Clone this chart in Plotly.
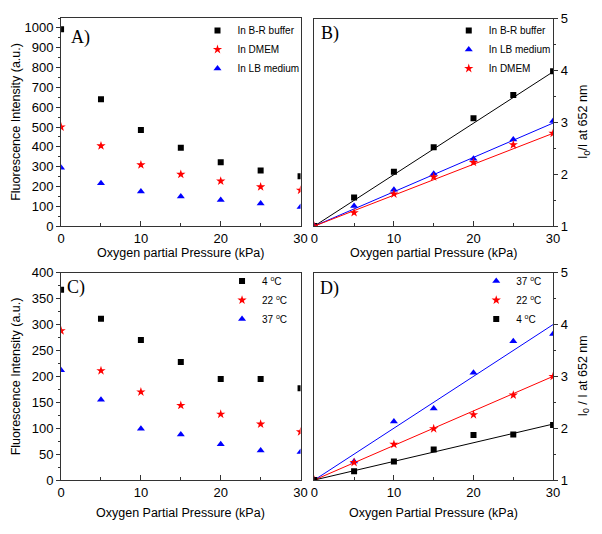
import plotly.graph_objects as go

# page is drawn with the browser's default 8px body margin, so the figure is
# made 8px smaller and every pixel position below is given in window pixels
W, H = 602, 534
OFF = 8
FW, FH = W - OFF, H - OFF

pressure = [0, 5, 10, 15, 20, 25, 30]

# A) fluorescence intensity in different media
br_intensity = [993, 640, 485, 395, 322, 281, 251]
dmem_intensity = [500, 405, 309, 261, 227, 198, 181]
lb_intensity = [294, 216, 175, 149, 132, 114, 96]

# B) I0/I in different media, with Stern-Volmer slopes of the fit lines
br_ratio = [1.0, 1.55, 2.05, 2.52, 3.08, 3.53, 3.99]
lb_ratio = [1.0, 1.39, 1.70, 2.01, 2.30, 2.67, 3.03]
dmem_ratio = [1.0, 1.26, 1.62, 1.95, 2.23, 2.57, 2.79]
br_slope, lb_slope, dmem_slope = 0.0993, 0.0663, 0.0597

# C) fluorescence intensity at different temperatures
t4_intensity = [367, 311, 270, 228, 195, 195, 177]
t22_intensity = [288, 211, 170, 144, 127, 108, 93]
t37_intensity = [212, 155, 99, 88, 69, 57, 54]

# D) I0/I at different temperatures
t37_ratio = [1.0, 1.36, 2.13, 2.38, 3.07, 3.68, 3.82]
t22_ratio = [1.0, 1.34, 1.69, 1.99, 2.26, 2.64, 3.0]
t4_ratio = [1.0, 1.17, 1.36, 1.59, 1.87, 1.88, 2.06]
t37_slope, t22_slope, t4_slope = 0.1, 0.0667, 0.036

FONT = "Liberation Sans, Arial, sans-serif"
BLACK, RED, BLUE = "#000000", "#ff0000", "#0000ff"
SYM = {"sq": ("square", 6), "star": ("star", 7), "tri": ("triangle-up", 7)}


def px_x(x):
    return (x - OFF) / FW


def px_y(y):
    return (H - y) / FH


def xdom(left, right):
    return [px_x(left), px_x(right)]


def ydom(top, bottom):
    return [px_y(bottom), px_y(top)]


fig = go.Figure()


def add_points(n, y, color, sym, name, legend, rank):
    symbol, size = SYM[sym]
    fig.add_trace(
        go.Scatter(
            x=pressure,
            y=y,
            mode="markers",
            name=name,
            marker={"symbol": symbol, "size": size, "color": color, "line": {"width": 0}},
            xaxis=f"x{n}",
            yaxis=f"y{n}",
            legend=legend,
            legendrank=rank,
        )
    )


def add_fit(n, slope, color):
    xs = [pressure[0], pressure[-1]]
    fig.add_trace(
        go.Scatter(
            x=xs,
            y=[1 + slope * x for x in xs],
            mode="lines",
            line={"color": color, "width": 1},
            xaxis=f"x{n}",
            yaxis=f"y{n}",
            showlegend=False,
            hoverinfo="skip",
        )
    )


# panel A
add_points("", br_intensity, BLACK, "sq", "In B-R buffer", "legend", 1)
add_points("", dmem_intensity, RED, "star", "In DMEM", "legend", 2)
add_points("", lb_intensity, BLUE, "tri", "In LB medium", "legend", 3)

# panel B
add_fit(2, br_slope, BLACK)
add_fit(2, lb_slope, BLUE)
add_fit(2, dmem_slope, RED)
add_points(2, br_ratio, BLACK, "sq", "In B-R buffer", "legend2", 1)
add_points(2, lb_ratio, BLUE, "tri", "In LB medium", "legend2", 2)
add_points(2, dmem_ratio, RED, "star", "In DMEM", "legend2", 3)

# panel C
add_points(3, t4_intensity, BLACK, "sq", "4 <sup>o</sup>C", "legend3", 1)
add_points(3, t22_intensity, RED, "star", "22 <sup>o</sup>C", "legend3", 2)
add_points(3, t37_intensity, BLUE, "tri", "37 <sup>o</sup>C", "legend3", 3)

# panel D
add_fit(4, t37_slope, BLUE)
add_fit(4, t22_slope, RED)
add_fit(4, t4_slope, BLACK)
add_points(4, t37_ratio, BLUE, "tri", "37 <sup>o</sup>C", "legend4", 1)
add_points(4, t22_ratio, RED, "star", "22 <sup>o</sup>C", "legend4", 2)
add_points(4, t4_ratio, BLACK, "sq", "4 <sup>o</sup>C", "legend4", 3)

AXIS_COLOR = "#333333"
axis_common = {
    "showline": True,
    "linecolor": AXIS_COLOR,
    "linewidth": 1,
    "mirror": True,
    "tickcolor": AXIS_COLOR,
    "showgrid": False,
    "zeroline": False,
    "tickfont": {"family": FONT, "size": 13, "color": "#000000"},
}
x_common = dict(
    axis_common, range=[0, 30], dtick=10, tick0=0, ticks="inside", ticklen=5,
    minor={"dtick": 5, "ticks": "inside", "ticklen": 3, "tickcolor": AXIS_COLOR},
)


def y_axis(dom, rng, dtick, side="left"):
    return dict(
        axis_common, domain=dom, range=rng, dtick=dtick, side=side,
        ticks="outside", ticklen=4,
        minor={"dtick": dtick / 2, "ticks": "outside", "ticklen": 2, "tickcolor": AXIS_COLOR},
    )


left_x = xdom(58, 302)
right_x = xdom(316, 559.3)

fig.update_layout(
    width=FW,
    height=FH,
    margin={"l": 0, "r": 0, "t": 0, "b": 0},
    paper_bgcolor="white",
    plot_bgcolor="white",
    font={"family": FONT, "size": 12, "color": "#000000"},
    xaxis=dict(x_common, domain=left_x, anchor="y"),
    yaxis=dict(y_axis(ydom(11.1, 225.3), [0, 1050], 100), anchor="x"),
    xaxis2=dict(x_common, domain=right_x, anchor="y2"),
    yaxis2=dict(y_axis(ydom(12, 225.3), [1, 5], 1, "right"), anchor="x2"),
    xaxis3=dict(x_common, domain=left_x, anchor="y3"),
    yaxis3=dict(y_axis(ydom(273.3, 486.7), [0, 400], 50), anchor="x3"),
    xaxis4=dict(x_common, domain=right_x, anchor="y4"),
    yaxis4=dict(y_axis(ydom(273.3, 486.7), [1, 5], 1, "right"), anchor="x4"),
    showlegend=True,
)

legend_style = {
    "bgcolor": "rgba(0,0,0,0)",
    "borderwidth": 0,
    "font": {"family": FONT, "size": 10, "color": "#000000"},
    "xanchor": "left",
    "yanchor": "top",
    "itemwidth": 30,
    "traceorder": "normal",
}
fig.update_layout(
    legend=dict(legend_style, x=px_x(197), y=px_y(9)),
    legend2=dict(legend_style, x=px_x(453), y=px_y(9)),
    legend3=dict(legend_style, x=px_x(222), y=px_y(267)),
    legend4=dict(legend_style, x=px_x(481), y=px_y(267)),
)

title_font = {"family": FONT, "size": 12.5, "color": "#000000"}
annotations = [
    # x axis titles
    (180, 253, "Oxygen partial Pressure (kPa)", 0),
    (437.6, 253, "Oxygen partial Pressure (kPa)", 0),
    (180, 521, "Oxygen Partial Pressure (kPa)", 0),
    (437.6, 521, "Oxygen Partial Pressure (kPa)", 0),
    # y axis titles
    (12, 118, "Fluorescence Intensity (a.u.)", -90),
    (12, 380, "Fluorescence Intensity (a.u.)", -90),
    (591, 118, "I<sub>0</sub>/I at 652 nm", -90),
    (591, 380, "I<sub>0</sub> / I at 652 nm", -90),
]
for ax, ay, text, angle in annotations:
    fig.add_annotation(
        x=px_x(ax), y=px_y(ay), xref="paper", yref="paper",
        text=text, textangle=angle, showarrow=False,
        xanchor="center", yanchor="middle", font=title_font,
    )

panel_font = {"family": "Liberation Serif, Times New Roman, serif", "size": 18, "color": "#000000"}
for ax, ay, text in [(66, 31, "A)"), (321, 27, "B)"), (62, 288, "C)"), (320, 290, "D)")]:
    fig.add_annotation(
        x=px_x(ax), y=px_y(ay), xref="paper", yref="paper",
        text=text, showarrow=False, xanchor="left", yanchor="middle", font=panel_font,
    )

fig.write_html("out.html")
